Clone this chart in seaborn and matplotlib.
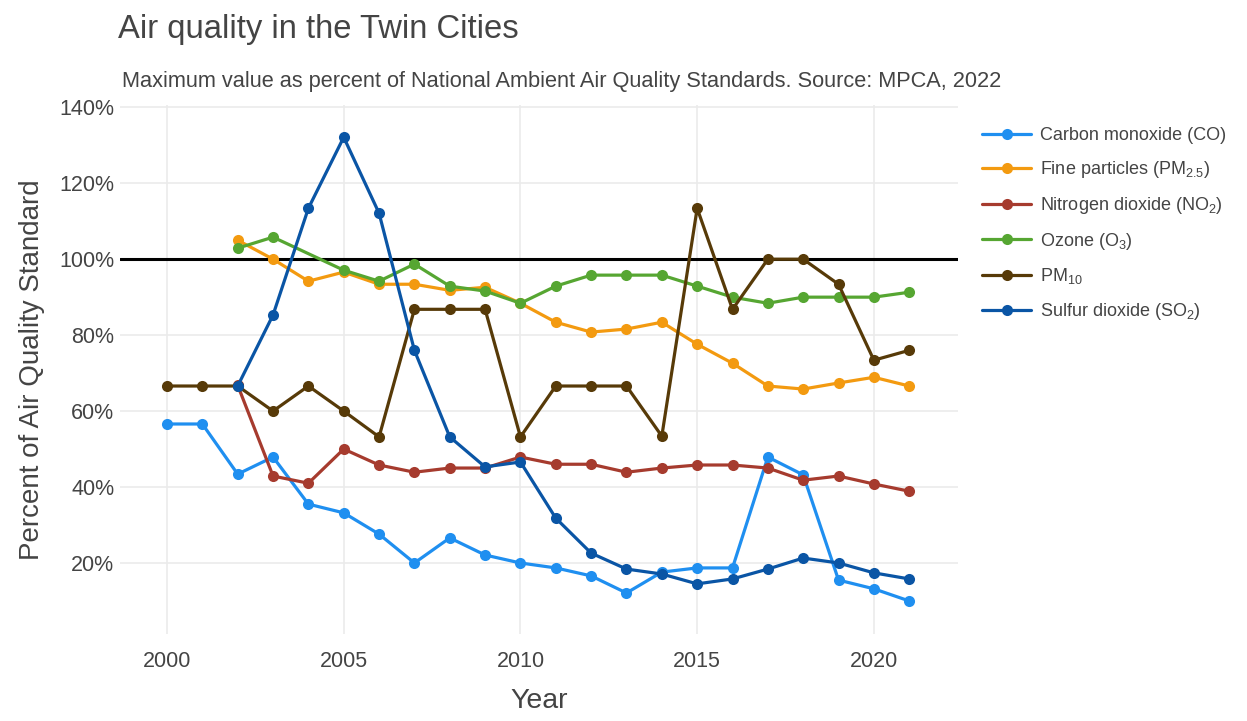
import numpy as np
import pandas as pd
import seaborn as sns
import matplotlib.pyplot as plt

# Values (% of the air quality standard)
years = list(range(2000, 2022))

carbon_monoxide = [56.6, 56.6, 43.4, 47.9, 35.5, 33.2, 27.6, 20.0, 26.6, 22.1, 20.0,
                   18.7, 16.6, 12.1, 17.6, 18.7, 18.7, 47.9, 43.2, 15.5, 13.2, 10.0]
fine_particles = [None, None, 105.0, 100.0, 94.2, 96.6, 93.4, 93.4, 91.8, 92.6, 88.4,
                  83.4, 80.8, 81.6, 83.4, 77.6, 72.6, 66.6, 65.8, 67.4, 68.9, 66.6]
nitrogen_dioxide = [None, None, 66.8, 42.9, 41.0, 50.0, 45.8, 43.9, 45.0, 45.0, 47.9,
                    46.0, 46.0, 43.9, 45.0, 45.8, 45.8, 45.0, 41.8, 42.9, 40.8, 38.9]
ozone = [None, None, 102.9, 105.8, None, 97.1, 94.2, 98.7, 92.9, 91.6, 88.4,
         92.9, 95.8, 95.8, 95.8, 92.9, 90.0, 88.4, 90.0, 90.0, 90.0, 91.3]
pm10 = [66.6, 66.6, 66.6, 60.0, 66.6, 60.0, 53.2, 86.8, 86.8, 86.8, 53.2,
        66.6, 66.6, 66.6, 53.4, 113.4, 86.8, 100.0, 100.0, 93.4, 73.4, 76.0]
sulfur_dioxide = [None, None, 66.6, 85.3, 113.4, 132.1, 112.1, 76.0, 53.2, 45.3, 46.6,
                  31.8, 22.6, 18.4, 17.1, 14.5, 15.8, 18.4, 21.3, 20.0, 17.4, 15.8]

labels = ["Carbon monoxide (CO)",
          "Fine particles (PM$_{2.5}$)",
          "Nitrogen dioxide (NO$_2$)",
          "Ozone (O$_3$)",
          "PM$_{10}$",
          "Sulfur dioxide (SO$_2$)"]
colors = ["#1f8ff0", "#f39a10", "#a63b2e", "#56a632", "#573a08", "#0a55a5"]
series = [carbon_monoxide, fine_particles, nitrogen_dioxide, ozone, pm10, sulfur_dioxide]

frames = []
for lab, vals in zip(labels, series):
    frames.append(pd.DataFrame({"Year": years, "value": vals, "pollutant": lab}))
df = pd.concat(frames).dropna()

sns.set_theme(style="whitegrid")
plt.rcParams["font.family"] = ["Liberation Sans", "DejaVu Sans"]
plt.rcParams["mathtext.default"] = "regular"

fig = plt.figure(figsize=(12.47, 7.21), dpi=100)
ax = fig.add_axes([120 / 1247, 87 / 721, 838 / 1247, 529 / 721])

sns.lineplot(data=df, x="Year", y="value", hue="pollutant", hue_order=labels,
             palette=dict(zip(labels, colors)), marker="o", markersize=8,
             markeredgewidth=0, linewidth=2.3, ax=ax, sort=True)

ax.axhline(100, color="black", lw=2.2, zorder=1)

ax.set_xlim(1998.67, 2022.38)
ax.set_ylim(1.3, 140.6)
ax.set_xticks([2000, 2005, 2010, 2015, 2020])
ax.set_yticks([20, 40, 60, 80, 100, 120, 140])
ax.set_yticklabels([f"{v}%" for v in [20, 40, 60, 80, 100, 120, 140]])
ax.tick_params(axis="both", labelsize=15.5, colors="#444444", length=0)
ax.tick_params(axis="x", pad=12)
ax.tick_params(axis="y", pad=4)
ax.grid(color="#ebebeb", lw=1.2)
for s in ax.spines.values():
    s.set_visible(False)

ax.set_xlabel("Year", fontsize=20.5, color="#444444", labelpad=12)
ax.set_ylabel("Percent of Air Quality Standard", fontsize=20, color="#444444", labelpad=10)

fig.text(118 / 1247, 1 - 38 / 721, "Air quality in the Twin Cities", fontsize=23.6,
         color="#444444", ha="left", va="baseline")
fig.text(122 / 1247, 1 - 87 / 721,
         "Maximum value as percent of National Ambient Air Quality Standards. Source: MPCA, 2022",
         fontsize=15.7, color="#444444", ha="left", va="baseline")

leg = ax.legend(loc="upper left", bbox_to_anchor=(966 / 1247, 1 - 111 / 721),
                bbox_transform=fig.transFigure, frameon=False, fontsize=13,
                handlelength=2.7, handletextpad=0.5, labelspacing=0.82, title=None)
for t in leg.get_texts():
    t.set_color("#444444")

fig.savefig("out.png", dpi=100)
